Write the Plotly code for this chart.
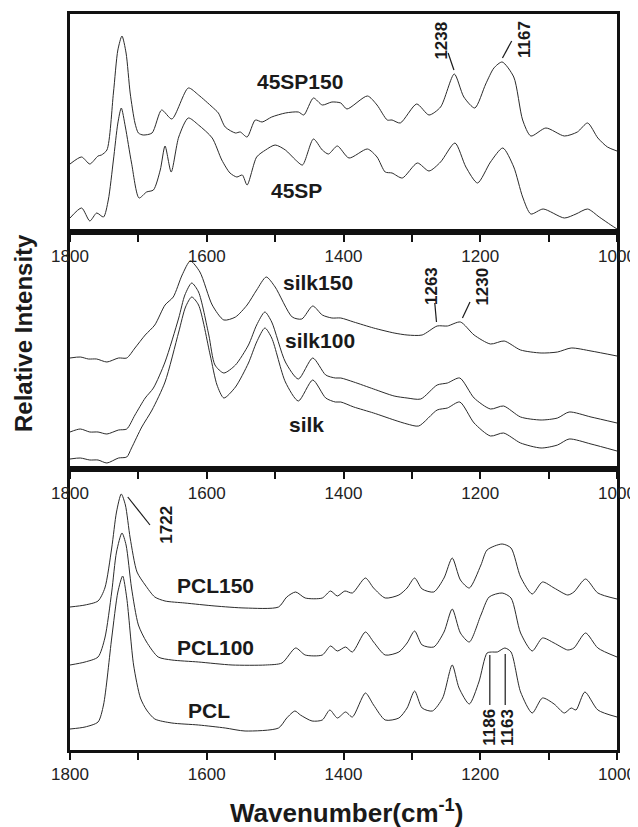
import plotly.graph_objects as go

# ---------------- data (wavenumber, relative intensity in arbitrary units) -------------
# Top panel
wn_45sp150 = [1800, 1783, 1771, 1759, 1754, 1746, 1736.5, 1730, 1724, 1718, 1712, 1705, 1700, 1693, 1680,
              1666, 1651, 1627, 1612, 1592, 1583, 1573, 1558, 1551, 1541, 1529, 1519, 1505, 1485, 1466,
              1458, 1444, 1431, 1417, 1404, 1395, 1365, 1351, 1336, 1329, 1317, 1293, 1275, 1258, 1238,
              1224, 1208, 1192, 1180, 1168, 1151, 1138, 1126, 1104, 1077, 1058, 1043, 1028, 1014, 1000]
in_45sp150 = [68, 75, 68, 76, 77, 82, 139, 182, 196, 179, 139, 109, 99, 97, 99,
              122, 113, 144, 137, 125, 119, 105, 99, 100, 95, 112, 110, 115, 119, 120,
              117, 134, 127, 130, 129, 123, 136, 127, 112, 112, 109, 128, 117, 125, 158,
              135, 124, 148, 164, 170, 155, 112, 96, 104, 96, 100, 109, 94, 85, 81]

wn_45sp = [1800, 1783, 1771, 1761, 1751, 1744, 1736.5, 1730, 1725, 1719, 1710, 1699, 1688, 1678, 1668,
           1661, 1652, 1641, 1627, 1612, 1592, 1578, 1566, 1556, 1548, 1541, 1527, 1514, 1500, 1485,
           1470, 1460, 1444, 1431, 1422, 1409, 1392, 1365, 1351, 1339, 1329, 1314, 1292, 1275, 1258,
           1237, 1221, 1204, 1185, 1167, 1151, 1138, 1126, 1108, 1077, 1060, 1043, 1026, 1009, 1000]
in_45sp = [14, 24, 11, 19, 15, 32, 72, 109, 124, 105, 69, 34, 40, 42, 62,
           86, 60, 95, 114, 107, 94, 72, 59, 55, 57, 47, 75, 82, 87, 82,
           72, 67, 93, 82, 78, 86, 74, 83, 75, 60, 59, 54, 69, 61, 70,
           89, 65, 49, 70, 84, 65, 35, 18, 23, 14, 18, 23, 15, 7, 3]

# Middle panel
wn_silk150 = [1800, 1785, 1773, 1761, 1746, 1729, 1717, 1705, 1690, 1676, 1661, 1649, 1636, 1624, 1610,
              1592, 1575, 1558, 1541, 1527, 1513, 1500, 1475, 1461, 1445, 1431, 1417, 1404, 1385, 1356,
              1326, 1307, 1285, 1263, 1248, 1229, 1209, 1185, 1165, 1141, 1111, 1087, 1067, 1038, 1000]
in_silk150 = [111, 112, 110, 110, 107, 111, 111, 121, 134, 144, 164, 172, 194, 208, 197,
              164, 149, 152, 164, 179, 192, 182, 152, 150, 163, 154, 151, 151, 147, 141,
              136, 134, 134, 143, 143, 147, 134, 125, 128, 119, 116, 117, 121, 118, 113]

wn_silk100 = [1800, 1785, 1771, 1759, 1746, 1729, 1717, 1705, 1690, 1678, 1661, 1641, 1632, 1622, 1612,
              1597, 1588, 1575, 1558, 1539, 1527, 1515, 1505, 1485, 1466, 1445, 1426, 1412, 1404, 1385,
              1356, 1326, 1307, 1287, 1263, 1248, 1230, 1209, 1185, 1166, 1141, 1111, 1087, 1070, 1038, 1000]
in_silk100 = [37, 40, 37, 37, 35, 39, 40, 54, 71, 81, 107, 151, 174, 186, 177,
              134, 104, 96, 104, 124, 144, 157, 147, 107, 90, 111, 94, 91, 91, 87,
              80, 73, 71, 70, 84, 86, 91, 71, 60, 63, 52, 49, 51, 57, 52, 46]

wn_silk = [1800, 1785, 1771, 1759, 1746, 1729, 1717, 1710, 1695, 1680, 1661, 1641, 1631, 1622, 1612,
           1595, 1585, 1575, 1558, 1539, 1527, 1515, 1505, 1485, 1466, 1445, 1426, 1412, 1404, 1385,
           1356, 1326, 1307, 1290, 1263, 1248, 1230, 1209, 1185, 1166, 1141, 1111, 1087, 1070, 1038, 1000]
in_silk = [10, 11, 9, 9, 6, 11, 12, 21, 42, 59, 87, 137, 162, 172, 164,
           114, 84, 71, 82, 106, 127, 141, 131, 87, 68, 89, 71, 67, 67, 62,
           56, 49, 45, 43, 59, 61, 67, 46, 33, 36, 26, 21, 24, 30, 25, 18]

# Bottom panel
wn_pcl150 = [1800, 1778, 1759, 1749, 1739, 1732, 1725, 1719, 1712, 1702, 1690, 1676, 1661, 1632, 1588,
             1544, 1495, 1483, 1470, 1456, 1431, 1419, 1409, 1398, 1387, 1368, 1356, 1339, 1319, 1307,
             1296, 1285, 1268, 1253, 1241, 1229, 1216, 1199, 1190, 1168, 1155, 1141, 1124, 1109, 1092,
             1072, 1063, 1046, 1028, 1000]
in_pcl150 = [143, 145, 149, 162, 202, 238, 256, 245, 212, 178, 165, 153, 149, 147, 144,
             142, 143, 153, 158, 152, 152, 159, 154, 159, 157, 172, 162, 152, 155, 162,
             172, 161, 158, 172, 192, 170, 162, 185, 200, 206, 202, 173, 156, 168, 162,
             155, 158, 171, 157, 151]

wn_pcl100 = [1800, 1778, 1759, 1749, 1739, 1732, 1724, 1718, 1710, 1700, 1688, 1671, 1651, 1612, 1563,
             1514, 1490, 1470, 1456, 1431, 1419, 1409, 1397, 1387, 1368, 1356, 1339, 1319, 1307, 1296,
             1285, 1268, 1253, 1241, 1229, 1216, 1199, 1187, 1168, 1155, 1141, 1124, 1109, 1092, 1072,
             1063, 1046, 1028, 1000]
in_pcl100 = [85, 88, 93, 112, 158, 198, 217, 205, 162, 125, 108, 93, 90, 88, 85,
             85, 87, 102, 95, 95, 104, 99, 103, 98, 118, 108, 95, 98, 107, 119,
             105, 103, 118, 141, 117, 108, 135, 153, 157, 152, 117, 99, 112, 107, 100,
             102, 117, 102, 93]

wn_pcl = [1800, 1778, 1759, 1751, 1739, 1730, 1723, 1717, 1707, 1697, 1688, 1676, 1651, 1612, 1573,
          1544, 1495, 1483, 1471, 1463, 1446, 1431, 1420, 1409, 1397, 1387, 1368, 1356, 1339, 1319,
          1307, 1296, 1285, 1270, 1255, 1241, 1231, 1216, 1202, 1190, 1182, 1175, 1164, 1155, 1141,
          1124, 1109, 1092, 1077, 1067, 1060, 1047, 1028, 1000]
in_pcl = [21, 23, 28, 45, 112, 158, 174, 152, 85, 52, 40, 31, 27, 25, 22,
          19, 22, 32, 39, 35, 29, 30, 40, 32, 38, 33, 57, 45, 30, 32,
          42, 59, 42, 39, 52, 85, 62, 46, 68, 97, 98, 98, 102, 98, 58,
          37, 52, 46, 37, 42, 40, 58, 40, 33]

tick_vals = [1800, 1700, 1600, 1500, 1400, 1300, 1200, 1100, 1000]
tick_text = ["1800", "", "1600", "", "1400", "", "1200", "", "1000"]

# ---------------- figure -----------------
FONT = "Liberation Sans, Arial, Helvetica, sans-serif"
LINE = dict(color="#2b2b2b", width=1, shape="spline", smoothing=0.7)

fig = go.Figure()
panels = [
    ("x3", "y3", [(wn_45sp150, in_45sp150), (wn_45sp, in_45sp)]),
    ("x2", "y2", [(wn_silk150, in_silk150), (wn_silk100, in_silk100), (wn_silk, in_silk)]),
    ("x", "y", [(wn_pcl150, in_pcl150), (wn_pcl100, in_pcl100), (wn_pcl, in_pcl)]),
]
for xa, ya, series in panels:
    for wx, iy in series:
        fig.add_trace(go.Scatter(x=wx, y=iy, xaxis=xa, yaxis=ya, mode="lines",
                                 line=LINE, showlegend=False, hoverinfo="skip"))

ax_common = dict(range=[1800, 1000], tickvals=tick_vals, ticktext=tick_text,
                 ticks="outside", ticklen=7, tickwidth=2, tickcolor="#111",
                 showline=True, linewidth=2.5, linecolor="#111", mirror=True,
                 showgrid=False, zeroline=False, automargin=False,
                 tickfont=dict(family=FONT, size=17, color="#222"))
ay_common = dict(showline=True, linewidth=2.5, linecolor="#111", mirror=True,
                 showgrid=False, zeroline=False, showticklabels=False, ticks="",
                 automargin=False)

H = 736.0
W = 547.0
d_bot = 281 / H
d_mid = (281 + 237) / H

# the page body adds an 8px offset, so the figure is 8px smaller and margins reduced
fig.update_layout(
    template="none",
    width=630, height=819,
    margin=dict(l=62, r=21, t=6, b=77, pad=0),
    plot_bgcolor="white", paper_bgcolor="white",
    font=dict(family=FONT, color="#1a1a1a"),
    xaxis=dict(anchor="y", domain=[0, 1], **ax_common),
    xaxis2=dict(anchor="y2", domain=[0, 1], **ax_common),
    xaxis3=dict(anchor="y3", domain=[0, 1], **ax_common),
    yaxis=dict(anchor="x", domain=[0, d_bot], range=[0, 281], **ay_common),
    yaxis2=dict(anchor="x2", domain=[d_bot, d_mid], range=[0, 237], **ay_common),
    yaxis3=dict(anchor="x3", domain=[d_mid, 1], range=[0, 218], **ay_common),
)

# sample labels (bold)
name_labels = [
    ("x3", "y3", 1463, 151, "45SP150"),
    ("x3", "y3", 1469, 42, "45SP"),
    ("x2", "y2", 1438, 187, "silk150"),
    ("x2", "y2", 1435, 129, "silk100"),
    ("x2", "y2", 1454, 45, "silk"),
    ("x", "y", 1587, 165, "PCL150"),
    ("x", "y", 1587, 103, "PCL100"),
    ("x", "y", 1596, 40, "PCL"),
]
for xa, ya, xv, yv, t in name_labels:
    fig.add_annotation(x=xv, y=yv, xref=xa, yref=ya, text="<b>%s</b>" % t, showarrow=False,
                       xanchor="center", yanchor="middle",
                       font=dict(family=FONT, size=21, color="#1a1a1a"))

# peak labels (rotated)
peak_labels = [
    ("x3", "y3", 1258, 191, "1238"),
    ("x3", "y3", 1136, 192, "1167"),
    ("x2", "y2", 1272, 183, "1263"),
    ("x2", "y2", 1198, 182, "1230"),
    ("x", "y", 1660, 225, "1722"),
    ("x", "y", 1187.5, 23, "1186"),
    ("x", "y", 1161, 23, "1163"),
]
for xa, ya, xv, yv, t in peak_labels:
    fig.add_annotation(x=xv, y=yv, xref=xa, yref=ya, text="<b>%s</b>" % t, showarrow=False,
                       textangle=-90, xanchor="center", yanchor="middle",
                       font=dict(family=FONT, size=17, color="#1a1a1a"))

# leader lines
leaders = [
    ("x3", "y3", 1247, 179, 1238.5, 162),
    ("x3", "y3", 1154, 191, 1167.5, 174),
    ("x2", "y2", 1266.5, 166, 1264, 147),
    ("x2", "y2", 1215, 167, 1226, 151),
    ("x", "y", 1715.5, 253, 1683, 225),
    ("x", "y", 1186, 95, 1186, 45),
    ("x", "y", 1163.5, 96, 1163.5, 45),
]
for xa, ya, x0, y0, x1, y1 in leaders:
    fig.add_shape(type="line", xref=xa, yref=ya, x0=x0, y0=y0, x1=x1, y1=y1,
                  line=dict(color="#1a1a1a", width=1.2))

# axis titles
fig.add_annotation(xref="paper", yref="paper", x=(346 - 70) / W, y=(750 - 811) / H,
                   xanchor="center", yanchor="middle",
                   text="<b>Wavenumber(cm<sup>-1</sup>)</b>", showarrow=False,
                   font=dict(family=FONT, size=26, color="#1a1a1a"))
fig.add_annotation(xref="paper", yref="paper", x=(23 - 70) / W, y=(750 - 333) / H,
                   xanchor="center", yanchor="middle",
                   text="<b>Relative Intensity</b>", showarrow=False, textangle=-90,
                   font=dict(family=FONT, size=24, color="#1a1a1a"))

fig.write_html("out.html")
